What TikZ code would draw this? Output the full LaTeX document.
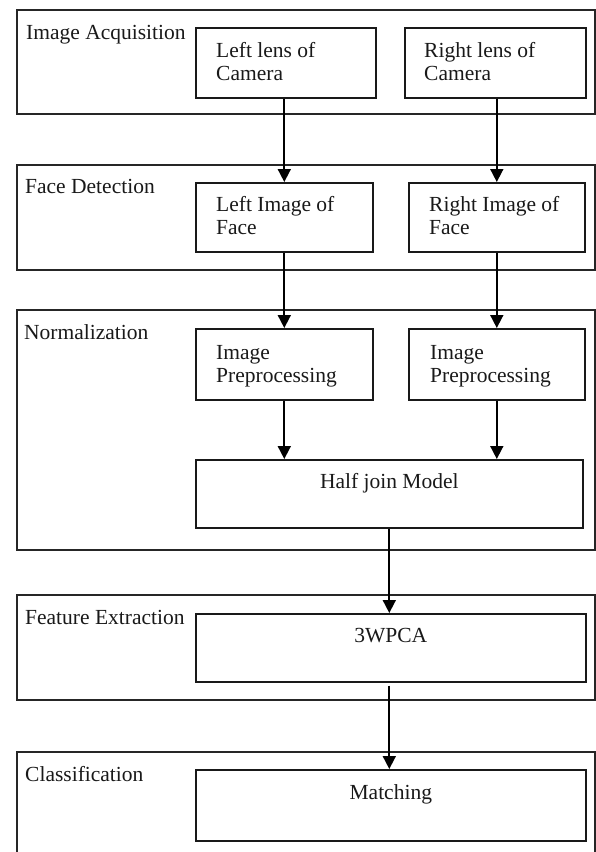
\documentclass[tikz,border=0pt]{standalone}
\usepackage{fontspec}
\setmainfont{Liberation Serif}
\usetikzlibrary{arrows.meta,calc}
\begin{document}
\begin{tikzpicture}[x=1pt,y=-1pt,
  stage/.style={draw=black!85,line width=1.6pt,anchor=north west,inner sep=0pt,minimum width=578pt},
  blk/.style={draw=black!90,line width=1.6pt,anchor=north west,inner sep=0pt},
  txt/.style={font=\fontsize{21.5}{23}\selectfont,align=left,anchor=base west,inner sep=0pt,text=black!90},
  ctxt/.style={font=\fontsize{21.5}{23}\selectfont,anchor=base,inner sep=0pt,text=black!90},
  arr/.style={draw=black,line width=1.7pt,-{Triangle[length=13pt,width=13pt]}}]
\useasboundingbox (0,0) rectangle (595,852);
% stages
\node[stage,minimum height=104pt] (s1) at (16,9) {};
\node[stage,minimum height=105pt] (s2) at (16,164) {};
\node[stage,minimum height=240pt] (s3) at (16,309) {};
\node[stage,minimum height=105pt] (s4) at (16,594) {};
\node[stage,minimum height=130pt] (s5) at (16,751) {};
\node[txt] (t1) at ($(s1.north west)+(10,30)$) {Image Acquisition};
\node[txt] (t2) at ($(s2.north west)+(9,29)$) {Face Detection};
\node[txt] (t3) at ($(s3.north west)+(8,30)$) {Normalization};
\node[txt] (t4) at ($(s4.north west)+(9,30)$) {Feature Extraction};
\node[txt] (t5) at ($(s5.north west)+(9,30)$) {Classification};
% blocks
\node[blk,minimum width=180pt,minimum height=70pt] (lensL) at (195,27) {};
\node[blk,minimum width=181pt,minimum height=70pt] (lensR) at (404,27) {};
\node[blk,minimum width=177pt,minimum height=69pt] (faceL) at (195,182) {};
\node[blk,minimum width=176pt,minimum height=69pt] (faceR) at (408,182) {};
\node[blk,minimum width=177pt,minimum height=71pt] (ppL) at (195,328) {};
\node[blk,minimum width=176pt,minimum height=71pt] (ppR) at (408,328) {};
\node[blk,minimum width=387pt,minimum height=68pt] (half) at (195,459) {};
\node[blk,minimum width=390pt,minimum height=68pt] (pca) at (195,613) {};
\node[blk,minimum width=390pt,minimum height=71pt] (match) at (195,769) {};
% block texts (base anchor = baseline of the last line)
\node[txt] (xlensL) at ($(lensL.north west)+(21,53)$) {Left lens of\\Camera};
\node[txt] (xlensR) at ($(lensR.north west)+(20,53)$) {Right lens of\\Camera};
\node[txt] (xfaceL) at ($(faceL.north west)+(21,52)$) {Left Image of\\Face};
\node[txt] (xfaceR) at ($(faceR.north west)+(21,52)$) {Right Image of\\Face};
\node[txt] (xppL) at ($(ppL.north west)+(21,54)$) {Image\\Preprocessing};
\node[txt] (xppR) at ($(ppR.north west)+(22,54)$) {Image\\Preprocessing};
\node[ctxt] (xhalf) at ($(half.north)+(0,29)$) {Half join Model};
\node[ctxt] (xpca) at ($(pca.north)+(0,29)$) {3WPCA};
\node[ctxt] (xmatch) at ($(match.north)+(0,30)$) {Matching};
% arrows
\draw[arr] (faceL.north |- lensL.south) -- (faceL.north);
\draw[arr] (faceR.north |- lensR.south) -- (faceR.north);
\draw[arr] (ppL.north |- faceL.south) -- (ppL.north);
\draw[arr] (ppR.north |- faceR.south) -- (ppR.north);
\draw[arr] (ppL.south) -- (ppL.south |- half.north);
\draw[arr] (ppR.south) -- (ppR.south |- half.north);
\draw[arr] (half.south) -- (half.south |- pca.north);
\draw[arr,shorten <=3pt] (half.south |- pca.south) -- (half.south |- match.north);
\end{tikzpicture}
\end{document}
